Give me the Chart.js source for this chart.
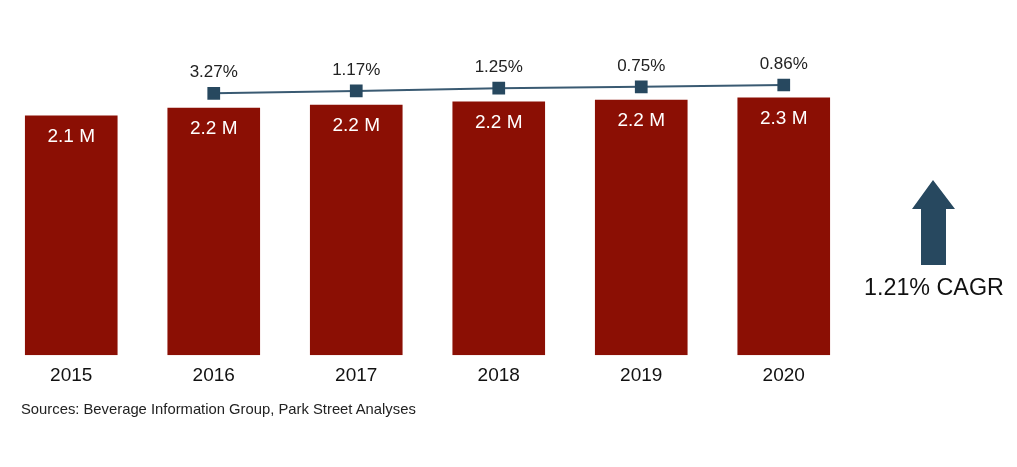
<!DOCTYPE html>
<html>
<head>
<meta charset="utf-8">
<script src="https://cdn.jsdelivr.net/npm/chart.js@4"></script>
<style>
  body { margin: 0; background: #fff; font-family: 'Liberation Sans', Arial, sans-serif; }
  #wrap { position: relative; width: 1017px; height: 467px; }
  #source { position: absolute; left: 21px; top: 400px; font-size: 14.8px; line-height: 18px; color: #222; }
  #cagr { position: absolute; left: 864px; top: 273px; font-size: 23.3px; line-height: 28px; color: #111; }
</style>
</head>
<body>
<div id="wrap">
  <canvas id="chart" width="1017" height="467"></canvas>
  <div id="source">Sources: Beverage Information Group, Park Street Analyses</div>
  <div id="cagr">1.21% CAGR</div>
</div>
<script>
document.addEventListener('DOMContentLoaded', () => {
  // Podaci
  const years = ['2015', '2016', '2017', '2018', '2019', '2020'];
  const volumes = [2.14, 2.21, 2.236, 2.265, 2.28, 2.30];
  const volumeLabels = ['2.1 M', '2.2 M', '2.2 M', '2.2 M', '2.2 M', '2.3 M'];
  const trend = [null, 2.21, 2.236, 2.265, 2.28, 2.30];
  const growthLabels = ['', '3.27%', '1.17%', '1.25%', '0.75%', '0.86%'];

  const red = '#8b0f04';
  const navy = '#27485f';

  // labele na stupcima i iznad tocaka, plus strelica
  const labelsPlugin = {
    id: 'labels',
    afterDatasetsDraw(chart) {
      const ctx = chart.ctx;
      ctx.save();
      ctx.textAlign = 'center';
      ctx.textBaseline = 'middle';

      ctx.font = '19px "Liberation Sans", Arial, sans-serif';
      ctx.fillStyle = '#fff';
      chart.getDatasetMeta(0).data.forEach((bar, i) => {
        ctx.fillText(volumeLabels[i], bar.x, bar.y + 21);
      });

      ctx.font = '17px "Liberation Sans", Arial, sans-serif';
      ctx.fillStyle = '#222';
      chart.getDatasetMeta(1).data.forEach((pt, i) => {
        if (!growthLabels[i]) return;
        ctx.fillText(growthLabels[i], pt.x, pt.y - 21);
      });

      // strelica
      ctx.fillStyle = navy;
      ctx.beginPath();
      ctx.moveTo(933, 180);
      ctx.lineTo(955, 209);
      ctx.lineTo(946, 209);
      ctx.lineTo(946, 265);
      ctx.lineTo(921, 265);
      ctx.lineTo(921, 209);
      ctx.lineTo(912, 209);
      ctx.closePath();
      ctx.fill();
      ctx.restore();
    }
  };

  new Chart(document.getElementById('chart'), {
    data: {
      labels: years,
      datasets: [
        {
          type: 'bar',
          data: volumes,
          backgroundColor: red,
          barPercentage: 0.65,
          categoryPercentage: 1,
          yAxisID: 'y',
          order: 2
        },
        {
          type: 'line',
          data: trend,
          borderColor: '#3a5a72',
          borderWidth: 2,
          pointStyle: 'rect',
          pointRadius: 9,
          pointBackgroundColor: navy,
          pointBorderColor: navy,
          pointBorderWidth: 0,
          yAxisID: 'y2',
          order: 1
        }
      ]
    },
    options: {
      responsive: false,
      animation: false,
      layout: { autoPadding: false, padding: { left: 0, right: 162, top: 64, bottom: 71 } },
      plugins: {
        legend: { display: false },
        tooltip: { enabled: false }
      },
      scales: {
        x: {
          grid: { display: false, drawTicks: false },
          border: { display: false },
          ticks: {
            padding: 9,
            color: '#111',
            font: { family: '"Liberation Sans", Arial, sans-serif', size: 19 }
          }
        },
        y: { display: false, min: 0, max: 2.6 },
        y2: { display: false, min: -0.635, max: 2.528 }
      }
    },
    plugins: [labelsPlugin]
  });
});
</script>
</body>
</html>
